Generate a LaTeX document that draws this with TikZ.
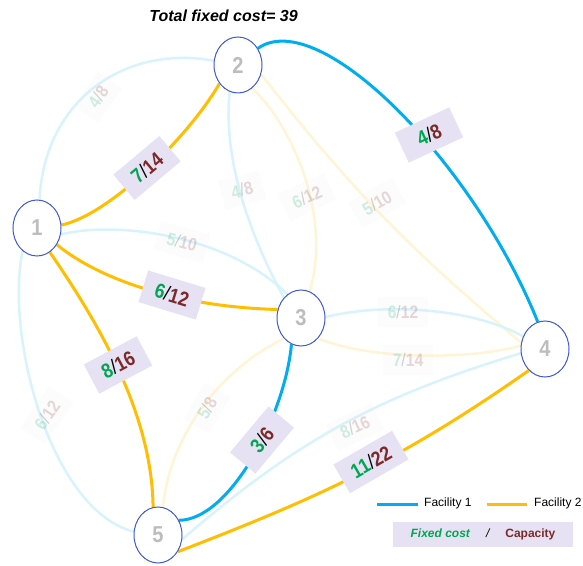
\documentclass[tikz,border=0pt]{standalone}
\usepackage{fontspec}
\setmainfont{Liberation Sans}
\newfontfamily\narrowfont[FakeStretch=0.87]{Liberation Sans}
\usetikzlibrary{shapes.geometric}
\definecolor{fone}{HTML}{00AEEF}
\definecolor{ftwo}{HTML}{FFBF00}
\definecolor{nodeb}{HTML}{4058D0}
\definecolor{labf}{HTML}{E6E2F3}
\definecolor{fcg}{HTML}{00A651}
\definecolor{capr}{HTML}{7B2A2A}
\definecolor{numg}{HTML}{BDBDBD}
\newcommand{\fcap}[2]{\textcolor{fcg}{#1}{\mdseries/}\textcolor{capr}{#2}}
\pgfdeclarelayer{bg}
\pgfdeclarelayer{mid}
\pgfsetlayers{bg,mid,main}
\tikzset{
  vert/.style={ellipse, draw=nodeb, line width=1pt, fill=white, minimum width=48pt,
    minimum height=56pt, inner sep=0pt, text=numg, font=\narrowfont\fontsize{23}{23}\selectfont\bfseries},
  act1/.style={draw=fone, line width=3pt},
  act2/.style={draw=ftwo, line width=3pt},
  off1/.style={draw=fone!15, line width=2.5pt},
  off2/.style={draw=ftwo!16, line width=2.5pt},
  onlab/.style={fill=labf, font=\narrowfont\fontsize{20.5}{20.5}\selectfont\bfseries, inner xsep=12pt,
    inner ysep=9pt, minimum width=60pt},
  offlab/.style={fill=labf, fill opacity=0.1, text opacity=0.18,
    font=\narrowfont\fontsize{18}{18}\selectfont\bfseries, inner xsep=10pt, inner ysep=8pt},
  legtext/.style={anchor=west, inner sep=0pt, font=\fontsize{12}{12}\selectfont}
}
\begin{document}
\begin{tikzpicture}[x=1pt,y=1pt]
\useasboundingbox (0,0) rectangle (583,565);

% vertices
\node[vert] (n1) at (37,337) {1};
\node[vert] (n2) at (238,500) {2};
\node[vert] (n3) at (301,247) {3};
\node[vert] (n4) at (545,216) {4};
\node[vert] (n5) at (158,30) {5};

% title
\node[font=\fontsize{16}{16}\selectfont\bfseries\itshape, anchor=base, inner sep=0pt] (ttl) at (223.5,543.5) {Total fixed cost= 39};

\begin{pgfonlayer}{bg}
\fill[white] (0,0) rectangle (583,565);
% unused links
\draw[off1] (n1.85) .. controls (45,470) and (130,520) .. (n2.170);
\draw[off1] (n2.-107) .. controls (222,400) and (255,320) .. (n3.130);
\draw[off2] (n2.-58) .. controls (300,430) and (330,340) .. (n3.72);
\draw[off2] (n2.-22) to[bend right=6] (n4.165);
\draw[off1] (n1.-15) .. controls (120,345) and (230,328) .. (n3.120);
\draw[off1] (n3.2) .. controls (380,262) and (470,258) .. (n4.150);
\draw[off2] (n3.-50) .. controls (370,205) and (470,205) .. (n4.172);
\draw[off1] (n1.-122) .. controls (5,230) and (50,55) .. (n5.172);
\draw[off2] (n3.-130) .. controls (220,195) and (170,130) .. (n5.80);
\draw[off1] (n5.-10) to[bend left=12] (n4.190);

% faint labels
\node[offlab, rotate=55] (u12) at (98,468) {\fcap{4}{8}};
\node[offlab, rotate=15] (u23a) at (242,375) {\fcap{4}{8}};
\node[offlab, rotate=25] (u23b) at (307,368) {\fcap{6}{12}};
\node[offlab, rotate=30] (u24) at (377,362) {\fcap{5}{10}};
\node[offlab, rotate=-15] (u13) at (182,323) {\fcap{5}{10}};
\node[offlab] (u34a) at (403,253) {\fcap{6}{12}};
\node[offlab] (u34b) at (408,205) {\fcap{7}{14}};
\node[offlab, rotate=55] (u15) at (47,150) {\fcap{6}{12}};
\node[offlab, rotate=60] (u35) at (207,157) {\fcap{5}{8}};
\node[offlab, rotate=25] (u54) at (355,138) {\fcap{8}{16}};
\end{pgfonlayer}

\begin{pgfonlayer}{mid}
% used links
\draw[act2] (n1.7) .. controls (110,350) and (190,430) .. (n2.-135);
\draw[act2] (n1.-40) .. controls (100,285) and (180,258) .. (n3.160);
\draw[act2] (n1.-62) .. controls (100,240) and (152,150) .. (n5.100);
\draw[act1] (n2.40) .. controls (320,560) and (475,400) .. (n4.105);
\draw[act1] (n3.-110) .. controls (285,150) and (230,45) .. (n5.35);
\draw[act2] (n5.-40) to[out=21,in=-145] (n4.-127);
\end{pgfonlayer}

% labels of used links
\node[onlab, rotate=40] (l12) at (147,397) {\fcap{7}{14}};
\node[onlab, rotate=-17] (l13) at (172,270) {\fcap{6}{12}};
\node[onlab, rotate=28] (l15) at (118,200) {\fcap{8}{16}};
\node[onlab, rotate=25] (l24) at (429,430) {\fcap{4}{8}};
\node[onlab, rotate=50] (l35) at (262,125) {\fcap{3}{6}};
\node[onlab, rotate=30] (l54) at (371,103) {\fcap{11}{22}};

% legend
\coordinate (k1a) at (377,61);
\coordinate (k1b) at (418,61);
\coordinate (k2a) at (487,61);
\coordinate (k2b) at (527,61);
\draw[act1] (k1a) -- (k1b);
\draw[act2] (k2a) -- (k2b);
\node[legtext] (kt1) at (424,62) {Facility 1};
\node[legtext] (kt2) at (534,62) {Facility 2};
\node[fill=labf, minimum width=180pt, minimum height=25pt, inner sep=0pt,
  font=\fontsize{12}{12}\selectfont\bfseries] (key) at (483,30.5)
  {\textcolor{fcg}{\itshape Fixed cost}\hspace{16pt}{\itshape\mdseries /}\hspace{16pt}\textcolor{capr}{Capacity}};
\end{tikzpicture}
\end{document}
